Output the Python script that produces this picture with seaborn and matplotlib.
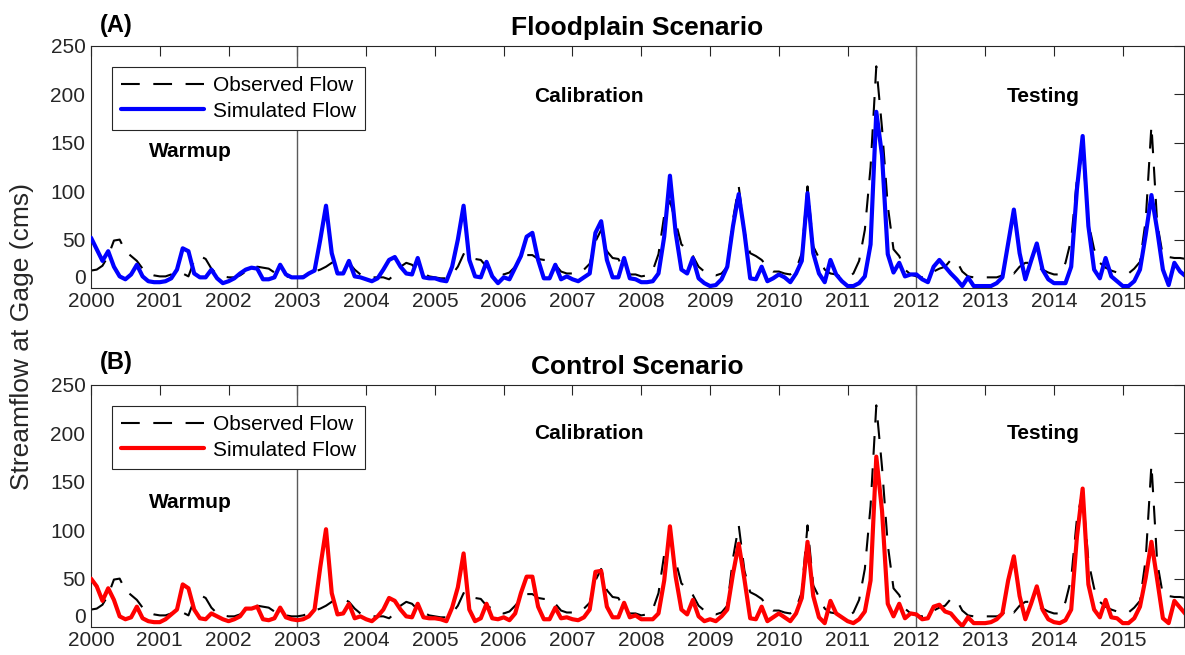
import numpy as np
import pandas as pd
import matplotlib
matplotlib.use('Agg')
import matplotlib.pyplot as plt
from matplotlib.lines import Line2D
import seaborn as sns

# monthly streamflow (cms), Jan 2000 - Dec 2015
observed = [18, 19, 23, 33, 49, 50, 38, 33, 28, 20, 15, 13,
            12, 12, 14, 17, 15, 12, 28, 33, 30, 20, 14, 12,
            11, 11, 13, 17, 20, 22, 21, 20, 16, 14, 12, 11,
            11, 12, 14, 17, 19, 22, 26, 29, 29, 26, 19, 14,
            12, 11, 11, 11, 9, 14, 22, 26, 24, 18, 15, 12,
            11, 10, 10, 14, 22, 35, 36, 30, 29, 22, 19, 15,
            14, 16, 22, 29, 34, 34, 30, 29, 29, 24, 17, 15,
            15, 15, 19, 25, 48, 60, 38, 31, 30, 19, 14, 14,
            12, 13, 18, 35, 75, 90, 68, 45, 40, 33, 22, 17,
            14, 13, 15, 22, 71, 105, 58, 36, 33, 29, 22, 17,
            17, 15, 14, 19, 36, 105, 43, 31, 19, 15, 14, 11,
            11, 15, 28, 60, 125, 229, 165, 85, 40, 33, 19, 14,
            12, 11, 12, 17, 20, 22, 29, 28, 17, 12, 11, 11,
            11, 11, 11, 13, 20, 15, 22, 26, 26, 22, 19, 16,
            14, 14, 26, 50, 112, 140, 68, 40, 26, 21, 18, 16,
            15, 15, 20, 27, 70, 168, 67, 33, 32, 31, 31, 30]

sim_floodplain = [52, 40, 28, 38, 22, 12, 9, 14, 24, 12, 7, 6,
                  6, 7, 10, 19, 41, 38, 15, 11, 11, 19, 10, 5,
                  7, 10, 15, 19, 21, 20, 9, 9, 11, 24, 14, 11,
                  11, 11, 15, 18, 50, 85, 36, 15, 15, 28, 12, 11,
                  9, 7, 10, 19, 29, 32, 22, 15, 14, 31, 11, 10,
                  10, 8, 7, 22, 50, 85, 29, 12, 11, 27, 12, 5,
                  11, 9, 21, 33, 53, 57, 29, 10, 10, 24, 9, 12,
                  9, 7, 11, 15, 57, 69, 29, 11, 11, 31, 10, 9,
                  6, 6, 7, 15, 53, 116, 57, 19, 15, 31, 10, 5,
                  2, 3, 9, 22, 64, 97, 57, 10, 9, 22, 7, 10,
                  14, 11, 6, 15, 28, 98, 36, 15, 6, 29, 14, 7,
                  2, 2, 5, 12, 45, 182, 137, 35, 16, 26, 12, 14,
                  14, 9, 6, 22, 29, 22, 15, 9, 2, 11, 2, 2,
                  2, 2, 5, 11, 46, 81, 36, 9, 28, 46, 19, 9,
                  5, 5, 5, 22, 102, 157, 64, 19, 10, 31, 12, 7,
                  2, 2, 7, 19, 55, 96, 60, 19, 3, 26, 17, 12]

sim_control = [50, 42, 27, 40, 28, 11, 8, 10, 21, 9, 6, 5,
               5, 8, 13, 18, 44, 40, 18, 9, 8, 14, 11, 8,
               6, 8, 11, 19, 19, 21, 8, 7, 9, 20, 10, 8,
               7, 8, 11, 18, 62, 101, 35, 13, 14, 24, 9, 11,
               8, 6, 11, 18, 30, 27, 18, 11, 10, 24, 10, 9,
               9, 8, 6, 20, 41, 76, 18, 6, 9, 24, 9, 8,
               10, 7, 14, 35, 52, 52, 21, 8, 8, 20, 9, 10,
               8, 7, 10, 18, 57, 58, 21, 10, 10, 25, 10, 12,
               8, 8, 8, 14, 48, 104, 52, 18, 13, 28, 11, 6,
               8, 6, 11, 18, 55, 86, 49, 9, 8, 21, 6, 10,
               14, 10, 6, 14, 30, 88, 32, 10, 4, 27, 14, 10,
               6, 4, 8, 16, 48, 176, 120, 24, 11, 24, 9, 14,
               13, 8, 9, 21, 23, 16, 14, 7, 1, 10, 4, 4,
               4, 5, 8, 14, 48, 73, 32, 8, 24, 42, 18, 8,
               5, 4, 7, 18, 93, 143, 44, 18, 10, 28, 10, 9,
               4, 4, 9, 21, 51, 88, 49, 9, 4, 27, 20, 13]

years = list(range(2000, 2016))
period_breaks = [2003, 2012]
panel_titles = ['Floodplain Scenario', 'Control Scenario']
panel_tags = ['(A)', '(B)']
sim_colors = ['#0000ff', '#ff0000']

t = 2000 + np.arange(len(observed)) / 12.0
df = pd.DataFrame({'t': t, 'obs': observed,
                   'simA': sim_floodplain, 'simB': sim_control})

sns.set_theme(style='white')
plt.rcParams['font.family'] = ['Liberation Sans', 'DejaVu Sans']

dark = '#262626'
fig = plt.figure(figsize=(11.85, 6.55), dpi=100)
ax1 = fig.add_axes([91 / 1185, 1 - 288 / 655, 1093 / 1185, 242 / 655])
ax2 = fig.add_axes([91 / 1185, 1 - 627 / 655, 1093 / 1185, 242 / 655])

label_pos = [{'Warmup': (2001.45, 141), 'Calibration': (2007.24, 197.5), 'Testing': (2013.84, 197.5)},
             {'Warmup': (2001.45, 129), 'Calibration': (2007.24, 200), 'Testing': (2013.84, 200)}]
tag_y = [1 - 32 / 655, 1 - 369 / 655]

for i, (ax, col) in enumerate(zip([ax1, ax2], ['simA', 'simB'])):
    for b in period_breaks:
        ax.axvline(b, color='#5a5a5a', lw=1.0, zorder=1)
    sns.lineplot(data=df, x='t', y='obs', ax=ax, color='black', linewidth=1.5,
                 linestyle=(0, (9, 6.5)), legend=False, zorder=2)
    sns.lineplot(data=df, x='t', y=col, ax=ax, color=sim_colors[i], linewidth=3.0,
                 legend=False, zorder=3)

    ax.set_xlim(2000, 2015.89)
    ax.set_ylim(0, 250)
    ax.set_xticks(years)
    ax.set_xticklabels([str(y) for y in years])
    ax.set_yticks([0, 50, 100, 150, 200, 250])
    ax.set_xlabel('')
    ax.set_ylabel('')
    ax.tick_params(direction='in', length=7, width=0.8, colors=dark,
                   top=True, right=True, labelsize=15)
    ax.tick_params(axis='x', pad=3)
    ax.tick_params(axis='y', pad=4)
    # lift the "0" label clear of the first year label
    ax.get_yticklabels()[0].set_va('bottom')
    for s in ax.spines.values():
        s.set_color(dark)
        s.set_linewidth(0.8)

    ax.set_title(panel_titles[i], fontsize=19, fontweight='bold', pad=8, color='black')
    fig.text(100 / 1185, tag_y[i], panel_tags[i], fontsize=17, fontweight='bold',
             ha='left', va='baseline', color='black')

    for name, (x, y) in label_pos[i].items():
        ax.text(x, y, name, fontsize=15, fontweight='bold', ha='center', va='center',
                color='black')

    handles = [Line2D([], [], color='black', lw=1.5, linestyle=(0, (9, 6.5))),
               Line2D([], [], color=sim_colors[i], lw=3.0)]
    leg = ax.legend(handles, ['Observed Flow', 'Simulated Flow'], loc='upper left',
                    bbox_to_anchor=(0.019, 0.913), borderaxespad=0, fancybox=False,
                    edgecolor=dark, framealpha=1, fontsize=15, handlelength=4.0,
                    handletextpad=0.4, labelspacing=0.3, borderpad=0.45)
    leg.get_frame().set_linewidth(0.8)
    for txt in leg.get_texts():
        txt.set_color('black')

fig.text(22 / 1185, 1 - 336 / 655, 'Streamflow at Gage (cms)', rotation=90,
         fontsize=19, ha='center', va='center', color=dark)

plt.savefig('out.png', dpi=100)
